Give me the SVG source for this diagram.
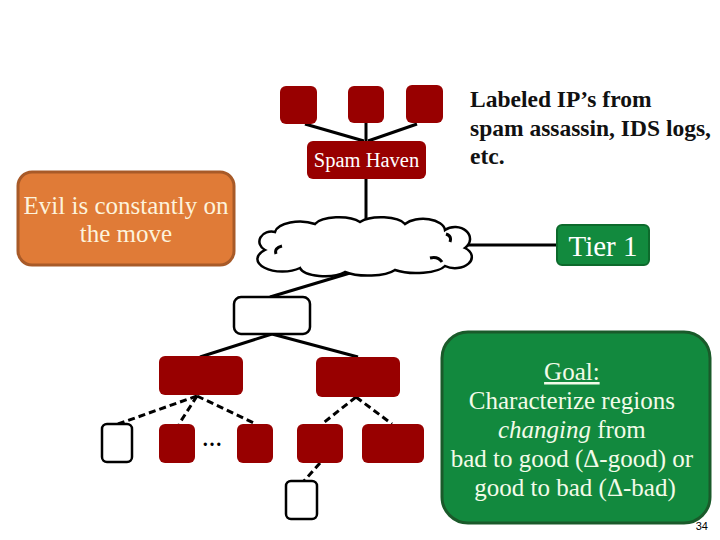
<svg xmlns="http://www.w3.org/2000/svg" width="720" height="540" viewBox="0 0 720 540">
<style>
.red{fill:#980000;}
.wb{fill:#fff;stroke:#000;stroke-width:2.5;}
.ln{stroke:#000;stroke-width:3;fill:none;}
.dash{stroke:#000;stroke-width:3;fill:none;stroke-dasharray:7,4;}
.t{font-family:"Liberation Serif","DejaVu Serif",serif;}
</style>
<rect width="720" height="540" fill="#fff"/>
<g id="connectors">
<line class="ln" x1="305" y1="124" x2="364" y2="141"/>
<line class="ln" x1="366" y1="123" x2="366" y2="141"/>
<line class="ln" x1="417" y1="124" x2="368" y2="141"/>
<line class="ln" x1="366" y1="179" x2="366" y2="224"/>
<line class="ln" x1="466" y1="245" x2="558" y2="245"/>
<line class="ln" x1="350" y1="273" x2="270" y2="297"/>
<line class="ln" x1="272" y1="334" x2="200" y2="357"/>
<line class="ln" x1="272" y1="334" x2="358" y2="357"/>
<line class="dash" x1="197" y1="396" x2="118" y2="424"/>
<line class="dash" x1="197" y1="396" x2="179" y2="424"/>
<line class="dash" x1="197" y1="396" x2="256" y2="424"/>
<line class="dash" x1="356" y1="397" x2="322" y2="424"/>
<line class="dash" x1="356" y1="397" x2="392" y2="424"/>
<line class="dash" x1="320" y1="463" x2="303" y2="482"/>
</g>
<g id="top1"><rect class="red" x="280" y="86" width="37" height="38" rx="6"/></g>
<g id="top2"><rect class="red" x="348" y="86" width="36" height="37" rx="6"/></g>
<g id="top3"><rect class="red" x="406" y="85" width="37" height="38" rx="6"/></g>
<g id="spamhaven"><rect class="red" x="307" y="141" width="119" height="38" rx="6"/>
<text class="t" x="366.5" y="167" font-size="20.5" fill="#fff" text-anchor="middle">Spam Haven</text></g>
<g id="cloud">
<path class="wb" d="M265,250 a12,10 0 0 1 10,-18 a25,12 0 0 1 40,-8 a25,10 0 0 1 45,-2 a25,10 0 0 1 45,2 a22,12 0 0 1 40,6 a15,12 0 0 1 20,18 a15,10 0 0 1 -20,18 a30,10 0 0 1 -50,4 a30,10 0 0 1 -50,2 a25,10 0 0 1 -45,-4 a20,10 0 0 1 -35,-18 z"/>
<path class="ln" stroke-width="2" d="M282,246 q-8,2 -6,8 M430,258 q8,-2 12,4 M446,234 q6,2 4,8"/>
</g>
<g id="tier1"><rect x="557" y="225" width="92" height="40" rx="5" fill="#128a3e" stroke="#0d6a2c" stroke-width="2"/>
<text class="t" x="603" y="256" font-size="29" fill="#fff" text-anchor="middle">Tier 1</text></g>
<g id="labeled"><text class="t" font-size="23.5" fill="#111" font-weight="bold">
<tspan x="470" y="107">Labeled IP’s from</tspan>
<tspan x="470" y="136">spam assassin, IDS logs,</tspan>
<tspan x="470" y="164">etc.</tspan></text></g>
<g id="evil"><rect x="18" y="172" width="216" height="93" rx="14" fill="#e07b37" stroke="#a85a28" stroke-width="3"/>
<text class="t" font-size="25" fill="#fdf3dc" text-anchor="middle"><tspan x="126" y="214">Evil is constantly on</tspan><tspan x="126" y="242">the move</tspan></text></g>
<g id="mid"><rect class="wb" x="234" y="297" width="76" height="37" rx="7"/></g>
<g id="redL"><rect class="red" x="159" y="356" width="84" height="39" rx="6"/></g>
<g id="redR"><rect class="red" x="316" y="357" width="84" height="40" rx="6"/></g>
<g id="leaf1"><rect class="wb" x="102" y="424" width="30" height="38" rx="5"/></g>
<g id="leaf2"><rect class="red" x="159" y="424" width="36" height="39" rx="6"/></g>
<g id="dots"><text class="t" x="212" y="446" font-size="20" font-weight="bold" fill="#000" text-anchor="middle">…</text></g>
<g id="leaf3"><rect class="red" x="237" y="424" width="36" height="39" rx="6"/></g>
<g id="leaf4"><rect class="red" x="297" y="424" width="46" height="39" rx="6"/></g>
<g id="leaf5"><rect class="red" x="362" y="424" width="62" height="39" rx="6"/></g>
<g id="leaf6"><rect class="wb" x="286" y="481" width="31" height="38" rx="5"/></g>
<g id="goal"><rect x="442" y="332" width="268" height="191" rx="26" fill="#12893e" stroke="#1a5a2a" stroke-width="3"/>
<text class="t" font-size="25" fill="#f2fbe8" text-anchor="middle">
<tspan x="575" y="380" text-decoration="underline">Goal:</tspan>
<tspan x="575" y="409">Characterize regions</tspan>
<tspan x="575" y="438"><tspan font-style="italic">changing</tspan> from</tspan>
<tspan x="575" y="467">bad to good (Δ-good) or</tspan>
<tspan x="575" y="496">good to bad (Δ-bad)</tspan></text></g>
<text x="708" y="530" font-family="Liberation Sans,Arial,sans-serif" font-size="11" fill="#000" text-anchor="end">34</text>
</svg>
